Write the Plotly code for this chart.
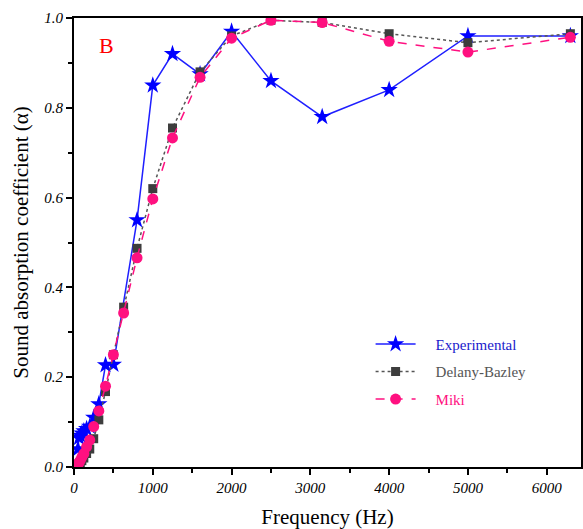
import plotly.graph_objects as go

freq = [50, 63, 80, 100, 125, 160, 200, 250, 315, 400, 500, 630, 800, 1000,
        1250, 1600, 2000, 2500, 3150, 4000, 5000, 6300]
exp_freq = [50, 63, 80, 100, 125, 160, 200, 250, 315, 400, 500, 800, 1000,
            1250, 1600, 2000, 2500, 3150, 4000, 5000, 6300]
experimental = [0.04, 0.065, 0.07, 0.075, 0.08, 0.085, 0.09, 0.11, 0.14, 0.227, 0.228, 0.55, 0.85,
                0.92, 0.875, 0.97, 0.86, 0.78, 0.84, 0.96, 0.96]
delany_bazley = [0.004, 0.007, 0.01, 0.014, 0.02, 0.03, 0.04, 0.063, 0.105, 0.168, 0.25, 0.356, 0.487, 0.62,
                 0.755, 0.88, 0.96, 0.995, 0.99, 0.965, 0.945, 0.965]
miki = [0.006, 0.01, 0.015, 0.022, 0.03, 0.045, 0.06, 0.09, 0.125, 0.18, 0.25, 0.343, 0.466, 0.597,
        0.733, 0.868, 0.955, 0.995, 0.99, 0.948, 0.924, 0.957]

x_ticks = [0, 1000, 2000, 3000, 4000, 5000, 6000]
y_ticks = [0.0, 0.2, 0.4, 0.6, 0.8, 1.0]
y_tick_labels = ["0.0", "0.2", "0.4", "0.6", "0.8", "1.0"]

pad = "&nbsp;" * 4

fig = go.Figure()
fig.add_trace(go.Scatter(
    x=exp_freq, y=experimental, mode="lines+markers",
    name=pad + "<span style='color:#1a1acc'>Experimental</span>",
    legendrank=1, legendgroup="a",
    line=dict(color="#1f1fff", width=1.5),
    marker=dict(symbol="star", size=13, color="#0000ff"),
))
fig.add_trace(go.Scatter(
    x=freq, y=delany_bazley, mode="lines+markers",
    name=pad + "<span style='color:#555555'>Delany-Bazley</span>",
    legendrank=2, legendgroup="b",
    line=dict(color="#555555", width=1.5, dash="dot"),
    marker=dict(symbol="square", size=9, color="#3d3d3d"),
))
fig.add_trace(go.Scatter(
    x=freq, y=miki, mode="lines+markers",
    name=pad + "<span style='color:#ff1080'>Miki</span>",
    legendrank=3, legendgroup="c",
    line=dict(color="#ff1080", width=1.5, dash="dash"),
    marker=dict(symbol="circle", size=11, color="#ff1080"),
))

fig.add_annotation(x=0.045, y=0.97, xref="paper", yref="paper", text="B",
                   showarrow=False, font=dict(family="Liberation Serif", size=22, color="#ff0000"))

tick_font = dict(family="Liberation Serif", size=15, color="black", style="italic")
fig.update_layout(
    width=583, height=529,
    margin=dict(l=74, r=0, t=18, b=62),
    paper_bgcolor="white", plot_bgcolor="white",
    font=dict(family="Liberation Serif", color="black"),
    legend=dict(x=0.585, y=0.31, xanchor="left", yanchor="top",
                font=dict(family="Liberation Serif", size=15),
                bgcolor="rgba(0,0,0,0)", tracegroupgap=5, itemwidth=40),
    showlegend=True,
)
fig.update_xaxes(
    range=[0, 6435], tickvals=x_ticks, ticktext=[str(v) for v in x_ticks],
    showgrid=False, zeroline=False, showline=True, linecolor="black", linewidth=2,
    mirror=True, ticks="outside", ticklen=6, tickwidth=1.5, tickcolor="black",
    minor=dict(dtick=500, ticks="outside", ticklen=4, tickcolor="black", tickwidth=1.5),
    tickfont=tick_font,
    title=dict(text="Frequency (Hz)", font=dict(family="Liberation Serif", size=21), standoff=14),
)
fig.update_yaxes(
    range=[0, 1.0], tickvals=y_ticks, ticktext=y_tick_labels,
    showgrid=False, zeroline=False, showline=True, linecolor="black", linewidth=2,
    mirror=True, ticks="outside", ticklen=6, tickwidth=1.5, tickcolor="black",
    minor=dict(dtick=0.1, ticks="outside", ticklen=4, tickcolor="black", tickwidth=1.5),
    tickfont=tick_font,
    title=dict(text="Sound absorption coefficient (α)", font=dict(family="Liberation Serif", size=21), standoff=10),
)

fig.write_html("out.html", config={"displayModeBar": False},
               post_script="document.body.style.margin='0';document.body.style.overflow='hidden';")
